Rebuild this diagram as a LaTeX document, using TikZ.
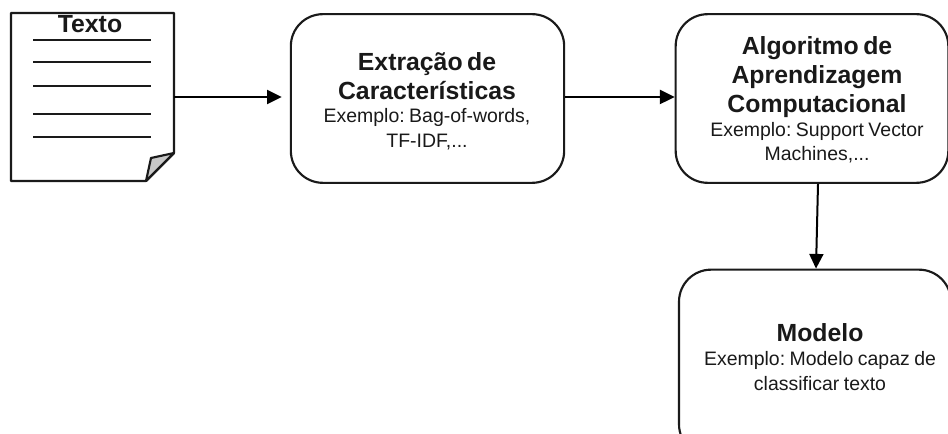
\documentclass[tikz,border=0pt]{standalone}
\usepackage{fontspec}
\setmainfont{Liberation Sans}
\usetikzlibrary{arrows.meta}
\definecolor{inkc}{HTML}{1A1A1A}
\definecolor{foldc}{HTML}{C8C8C8}
\frenchspacing
\newcommand{\headtxt}[1]{{\fontsize{18.6}{21.8}\bfseries\selectfont #1\par}}
\newcommand{\subtxt}[1]{{\fontsize{14.6}{18.6}\selectfont #1\par}}
\tikzset{
  x=0.75pt,y=-0.75pt,
  procbox/.style={draw=inkc,line width=1.6pt,rounded corners=24pt,align=center,inner sep=0pt,text=black!90},
  flow/.style={draw=black,line width=1.5pt,-{Triangle[length=11pt,width=10.5pt]}},
  docline/.style={draw=inkc,line width=1.4pt},
  docedge/.style={draw=inkc,line width=1.6pt,line join=round},
  boxtext/.style={align=center,inner sep=0pt,text=black!90}
}
\begin{document}
\begin{tikzpicture}
\useasboundingbox (0,0) rectangle (948,434);
\clip (0,0) rectangle (948,434);
% document icon
\node[minimum width=122pt,minimum height=126pt,inner sep=0pt] (doc) at (92.5,97) {};
\draw[docedge] (11,13) -- (174,13) -- (174,153) -- (146,181) -- (11,181) -- cycle;
\draw[docedge,fill=foldc] (174,153) -- (151,158) -- (146,181) -- cycle;
\foreach \ly in {40,62,86,114,137}
  \draw[docline] (33,\ly) -- (151,\ly);
\node[font=\fontsize{18.6}{22}\bfseries\selectfont,text=black!90,inner sep=0pt] (doctitle) at (90,24) {Texto};
% boxes
\node[procbox,minimum width=205pt,minimum height=126.5pt] (feat) at (427.5,98.5) {};
\node[procbox,minimum width=204.5pt,minimum height=126.5pt] (algo) at (812,98.5) {};
\node[procbox,minimum width=204pt,minimum height=140pt] (model) at (815,363) {};
% box texts
\node[boxtext,text width=205pt] (feattext) at (427,101) {%
  \headtxt{Extração de\\Características}\vskip-1pt
  \subtxt{Exemplo: Bag-of-words,\\TF-IDF,...}};
\node[boxtext,text width=203pt] (algotext) at (817,100) {%
  \headtxt{Algoritmo de\\Aprendizagem\\Computacional}\vskip-1pt
  \subtxt{Exemplo: Support Vector\\Machines,...}};
\node[boxtext,text width=204pt] (modeltext) at (820,357) {%
  \headtxt{Modelo}\vskip-1pt
  \subtxt{Exemplo: Modelo capaz de\\classificar texto}};
% connectors
\draw[flow] (doc.east) -- ([xshift=-6pt]feat.west |- doc.east);
\draw[flow] (feat.east |- doc.east) -- (algo.west |- doc.east);
\draw[flow] (algo.south -| 818,0) -- (model.north -| 816,0);
\end{tikzpicture}
\end{document}
